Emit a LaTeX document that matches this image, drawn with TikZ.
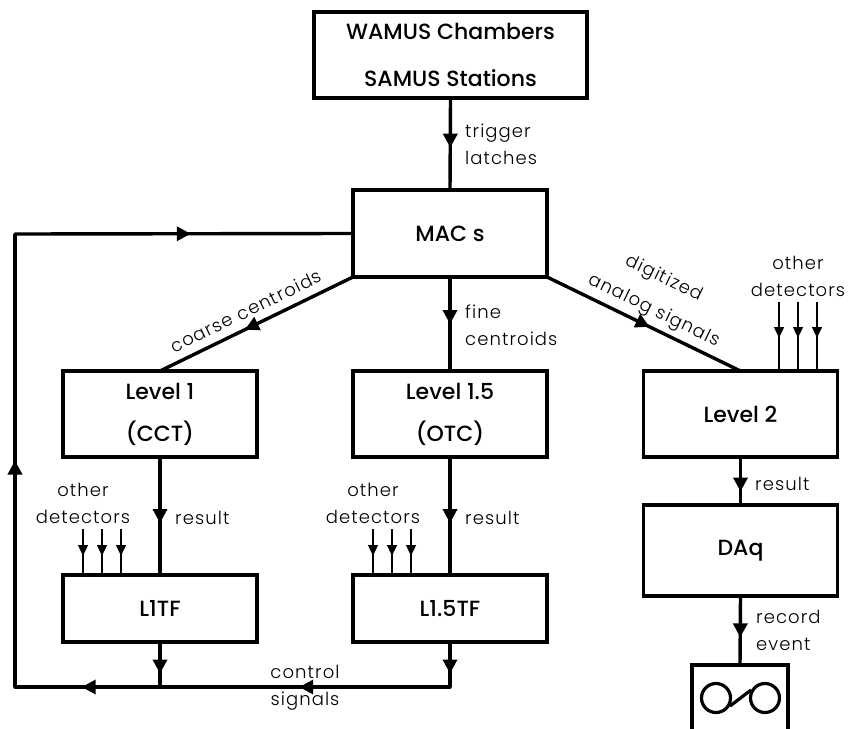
\documentclass[tikz,border=0pt]{standalone}
\usepackage{fontspec}
\setmainfont{Poppins}
\newfontfamily\lightfont{Poppins Light}[LetterSpace=6]
\newfontfamily\headfont{Poppins Medium}
\usetikzlibrary{arrows.meta,decorations.markings}
\tikzset{
  x=1pt,y=-1pt,
  blockbox/.style={draw,line width=3.6pt,fill=white,inner sep=0pt,outer sep=0pt,minimum width=194pt,align=center,font=\headfont\fontsize{22}{42}\selectfont},
  widehead/.style={font=\headfont\fontsize{22}{47}\selectfont},
  wire/.style={line width=3.4pt},
  thinwire/.style={line width=2.8pt},
  tipat/.style={decoration={markings,mark=at position #1 with {\arrow{Triangle[length=14pt,width=14pt]}}},postaction={decorate}},
  smalltipat/.style={decoration={markings,mark=at position #1 with {\arrow{Triangle[length=11pt,width=9.5pt]}}},postaction={decorate}},
  lbl/.style={font=\lightfont\fontsize{18}{27}\selectfont,align=left,inner sep=0pt},
  lblc/.style={lbl,align=center},
}
\begin{document}
\begin{tikzpicture}
\useasboundingbox (0,0) rectangle (848,728);
\clip (0,0) rectangle (848,728);
% blocks
\node[blockbox,widehead,minimum width=273pt,minimum height=86pt] (top) at (450.5,55) {WAMUS Chambers\\SAMUS Stations};
\node[blockbox,minimum height=87pt] (mac) at (450,233.5) {MAC s};
\node[blockbox,minimum height=86pt] (lone) at (160,414) {Level 1\\(CCT)};
\node[blockbox,minimum height=86pt] (lonefive) at (450,414) {Level 1.5\\(OTC)};
\node[blockbox,minimum height=86pt] (ltwo) at (740.5,414) {Level 2};
\node[blockbox,minimum height=67pt] (tfone) at (160,608.5) {L1TF};
\node[blockbox,minimum height=67pt] (tffive) at (450,608.5) {L1.5TF};
\node[blockbox,minimum height=91pt] (daq) at (740.5,550.5) {DAq};
\node[draw,line width=3.6pt,inner sep=0pt,outer sep=0pt,minimum width=96pt,minimum height=80pt] (tape) at (740,705) {};
% main connectors
\draw[wire,tipat=.54] (top.south) -- (mac.north);
\draw[wire,tipat=.50] (mac.south) -- (lonefive.north);
\draw[wire,tipat=.56] (lone.south) -- (tfone.north);
\draw[wire,tipat=.56] (lonefive.south) -- (tffive.north);
\draw[wire,tipat=.72] (ltwo.south) -- (daq.north);
\draw[wire,tipat=.60] (daq.south) -- (tape.north);
\coordinate (cl) at (mac.south west);
\coordinate (cr) at (mac.south east);
\draw[wire,tipat=.56] (cl) -- (lone.north);
\draw[wire,tipat=.53] (cr) -- (ltwo.north);
% control loop
\coordinate (jone) at (160,687);
\coordinate (jtwo) at (450,687);
\coordinate (corner) at (15,687);
\coordinate (cornertop) at (15,234);
\draw[wire,tipat=.70] (tfone.south) -- (jone);
\draw[wire,tipat=.70] (tffive.south) -- (jtwo);
\draw[wire,line cap=round,tipat=.52] (jtwo) -- (jone);
\draw[wire,line cap=round,tipat=.54] (jone) -- (corner);
\draw[wire,tipat=.50] (corner) -- (cornertop);
\draw[wire,line cap=round,tipat=.52] (cornertop) -- (mac.west);
% other-detector inputs
\foreach \n/\x in {a/83,b/102,c/121}{
  \coordinate (s\n) at (\x,529);
  \coordinate (e\n) at (\x,574);
  \draw[thinwire,smalltipat=.60] (s\n) -- (e\n);
}
\foreach \n/\x in {d/373,e/392,f/411}{
  \coordinate (s\n) at (\x,529);
  \coordinate (e\n) at (\x,574);
  \draw[thinwire,smalltipat=.60] (s\n) -- (e\n);
}
\foreach \n/\x in {g/779,h/798,i/817}{
  \coordinate (s\n) at (\x,302);
  \coordinate (e\n) at (\x,370);
  \draw[thinwire,smalltipat=.53] (s\n) -- (e\n);
}
% tape symbol
\node[draw,circle,line width=3.2pt,minimum size=29pt,inner sep=0pt] (reela) at (716,698) {};
\node[draw,circle,line width=3.2pt,minimum size=29pt,inner sep=0pt] (reelb) at (765,698) {};
\draw[line width=3.2pt] (reela.-30) -- (reelb.150);
% labels
\node[lbl,anchor=west] (ltrig) at (465,144) {trigger\\latches};
\node[lbl,anchor=west] (lfine) at (465,325) {fine\\centroids};
\node[lbl,anchor=west] (lres) at (175,518) {result};
\node[lbl,anchor=west] (lresb) at (465,518) {result};
\node[lbl,anchor=west] (lresc) at (755,484) {result};
\node[lbl,anchor=west] (lrec) at (756,630) {record\\event};
\node[lblc] (loth) at (83,503) {other\\detectors};
\node[lblc] (lothb) at (373,503) {other\\detectors};
\node[lblc] (lothc) at (798,276) {other\\detectors};
\node[lblc] (lctl) at (305,688) {control\\signals};
\node[lbl,rotate=26] (lcoarse) at (246,311) {coarse centroids};
\node[lbl,rotate=-26] (ldig) at (664,279) {digitized};
\node[lbl,rotate=-26] (lana) at (654,311) {analog signals};
\end{tikzpicture}
\end{document}
